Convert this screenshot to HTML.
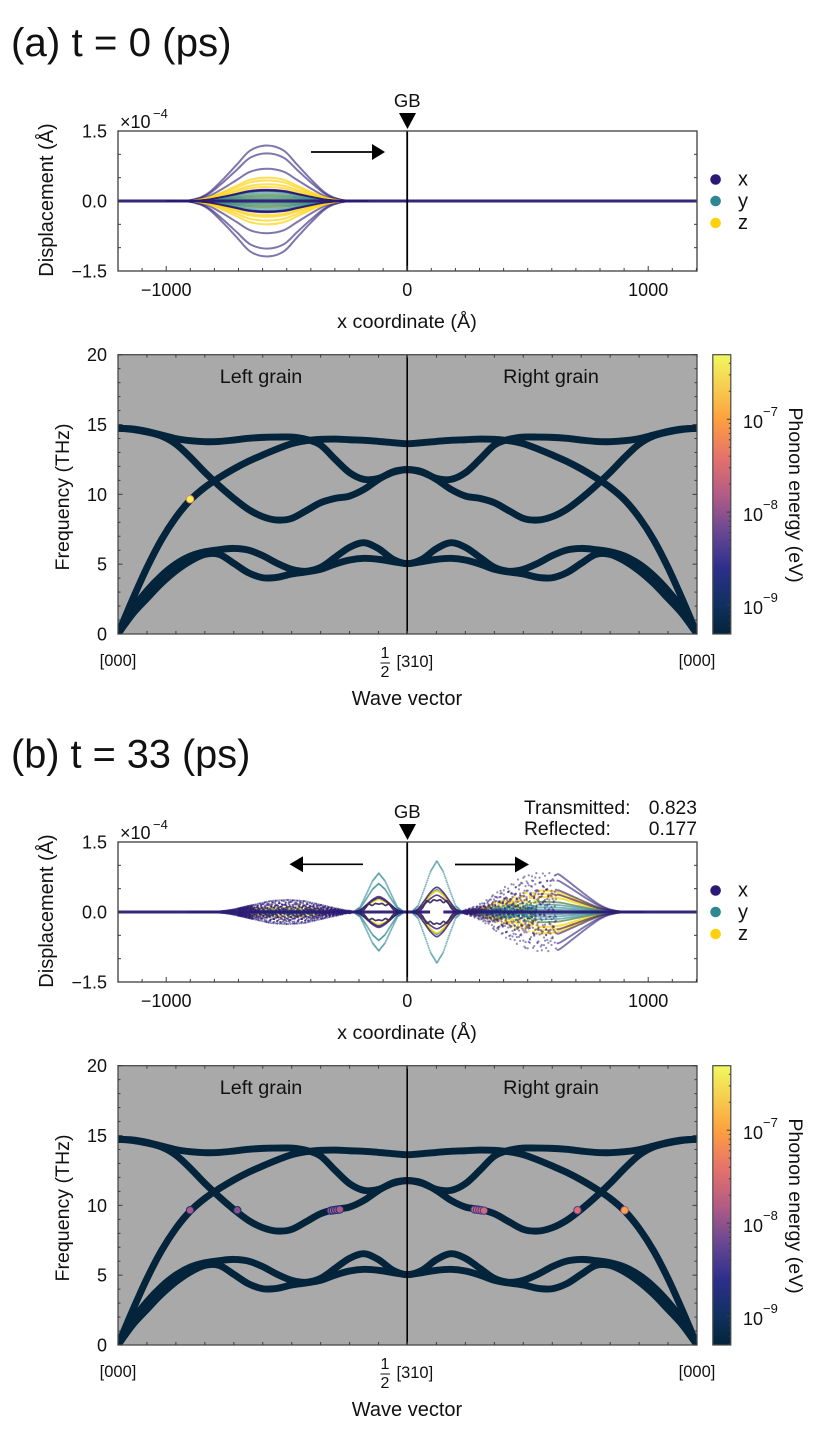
<!DOCTYPE html>
<html lang="en">
<head>
<meta charset="utf-8">
<title>Phonon wave packet at a grain boundary</title>
<style>
html,body{margin:0;padding:0;background:#fff;width:829px;height:1429px;overflow:hidden}
svg{display:block}
text{font-family:"Liberation Sans",Arial,sans-serif;fill:#111}
</style>
</head>
<body>
<svg id="fig" xmlns="http://www.w3.org/2000/svg" width="829" height="1429" viewBox="0 0 829 1429">
  <defs>
    <linearGradient id="cbGrad" x1="0" y1="1" x2="0" y2="0"></linearGradient>
    <clipPath id="clipTop"><rect x="118" y="131" width="579" height="140"></rect></clipPath>
    <clipPath id="clipPhon"><rect x="118" y="354.7" width="579" height="279.3"></rect></clipPath>
  </defs>
  <rect x="0" y="0" width="829" height="1429" fill="#fff"></rect>
  <text x="11" y="56" font-size="40.3">(a) t = 0 (ps)</text>
  <text x="11" y="767.5" font-size="39.7">(b) t = 33 (ps)</text>
  <text x="524" y="814" font-size="19.3">Transmitted:</text>
  <text x="697" y="814" font-size="19.3" text-anchor="end">0.823</text>
  <text x="524" y="835" font-size="19.3">Reflected:</text>
  <text x="697" y="835" font-size="19.3" text-anchor="end">0.177</text>
  <g id="panelA"></g>
  <g id="panelB" transform="translate(0,711)"></g>
</svg>
<script>
// ---------- displacement axis data (Angstrom, units of 1e-4 A) ----------
const xTickValues = [-1000, 0, 1000];
const yTickValues = [1.5, 0, -1.5];
const yTickLabels = ['1.5', '0.0', '\u22121.5'];
const legendLabels = ['x', 'y', 'z'];

// packet envelope (distance from centre, relative amplitude)
const envOffset = [-420, -332, -276, -235, -180, -124, -69, 0, 69, 124, 180, 235, 276, 332, 420];
const envValue = [0, 0.006, 0.065, 0.17, 0.40, 0.66, 0.91, 1, 0.91, 0.66, 0.40, 0.17, 0.065, 0.006, 0];
const wideOffset = [-380, -340, -280, -235, -180, -124, -69, 0, 69, 124, 180, 235, 276, 332, 420];
const wideValue = [0, 0.02, 0.15, 0.30, 0.55, 0.75, 0.92, 1, 0.91, 0.66, 0.40, 0.17, 0.065, 0.006, 0];
const narrowOffset = [-105, -78, -52, -26, 0, 26, 52, 78, 105];
const narrowValue = [0, 0.12, 0.45, 0.80, 1, 0.80, 0.45, 0.12, 0];

// panel (a) packet
const aCentre = -582;
const aAmpX = [1.19, 1.02, 0.69, 0.24, 0.23, 0.22, -0.22, -0.23, -0.24, -0.69, -1.02, -1.19];
const aAmpZ = [0.50, 0.44, 0.36, 0.30, 0.13, 0.07, -0.07, -0.13, -0.30, -0.34, -0.42, -0.50];
const aAmpY = [0.20, 0.16, 0.12, 0.09, 0.05, 0.03, -0.03, -0.05, -0.09, -0.12, -0.16, -0.20];

// panel (b) reflected packet
const bLeftCentre = -498;
const bLeftAmpX = [0.26, 0.22, 0.17, 0.12, -0.12, -0.17, -0.22, -0.26];
const bLeftAmpZ = [0.12, 0.09, -0.09, -0.12];
const bLeftAmpY = [0.06, 0.03, -0.03, -0.06];
const bLeftOuter = [0.26, -0.26];

// panel (b) transmitted packet
const bRightCentre = 565;
const bRightAmpX = [0.87, 0.72, 0.50, 0.40, -0.40, -0.50, -0.72, -0.87];
const bRightAmpZ = [0.46, 0.39, 0.32, 0.22, -0.22, -0.32, -0.39, -0.46];
const bRightAmpY = [0.22, 0.16, 0.10, 0.05, -0.05, -0.10, -0.16, -0.22];

// panel (b) packets pinned near the grain boundary
const gbLeftCentre = -118;
const gbLeftAmpY = [0.83, 0.61, -0.61, -0.83];
const gbLeftAmpX = [0.33, 0.30, -0.30, -0.33];
const gbLeftAmpZ = [0.27, -0.27];
const gbRightCentre = 123;
const gbRightAmpY = [1.09, 0.48, -0.48, -1.09];
const gbRightAmpX = [0.53, 0.36, -0.36, -0.53];
const gbRightAmpZ = [0.45, -0.45];
const ringOffset = [-78, -60, -42, -28, -14, 0, 14, 28, 42, 60, 78];
const ringValue = [0, 0.08, 0.24, 0.20, 0.26, 0.24, 0.26, 0.20, 0.24, 0.08, 0];
const ringLeftScale = [0.7, -0.7];
const ringRightScale = [1, -1];

// hand-read spread of scattered atoms relative to their envelope
const scatterPattern = [0.98, -0.82, 0.35, -0.97, 0.71, 0.12, -0.66, 0.93, -0.41, -0.88, 0.55, 0.99, -0.28, -0.74, 0.86, 0.2, -0.95, 0.63, -0.09, 0.9, -0.58, 0.78, -0.99, 0.31, 0.68, -0.85, 0.47, -0.15, 0.96];

// ---------- dispersion data ----------
const qGrid = [0, 0.05, 0.1, 0.15, 0.2, 0.25, 0.3, 0.35, 0.4, 0.45, 0.5, 0.55, 0.6, 0.65, 0.7, 0.75, 0.8, 0.85, 0.9, 0.95, 1];
const bandOptical = [14.73, 14.68, 14.51, 14.25, 13.99, 13.84, 13.77, 13.79, 13.89, 14.01, 14.08, 14.10, 14.10, 13.94, 13.53, 12.51, 11.55, 11.07, 11.15, 11.58, 11.77];
const bandLongitudinal = [0, 2.45, 4.75, 6.75, 8.35, 9.6, 10.5, 11.2, 11.82, 12.36, 12.82, 13.25, 13.63, 13.84, 13.94, 13.96, 13.91, 13.87, 13.79, 13.70, 13.63];
const bandDescending = [14.73, 14.65, 14.46, 14.18, 13.60, 12.65, 11.58, 10.60, 9.71, 8.93, 8.40, 8.16, 8.28, 8.83, 9.40, 9.71, 9.88, 10.36, 11.07, 11.62, 11.77];
const bandTransverse1 = [0, 1.77, 3.10, 4.18, 5.01, 5.58, 5.89, 6.04, 6.13, 6.01, 5.61, 5.06, 4.63, 4.49, 4.77, 5.49, 6.21, 6.54, 6.11, 5.35, 5.04];
const bandTransverse2 = [0, 1.43, 2.55, 3.63, 4.53, 5.23, 5.70, 5.70, 5.06, 4.39, 4.03, 4.06, 4.30, 4.44, 4.63, 5.01, 5.30, 5.42, 5.35, 5.18, 5.04];
const freqTicks = [0, 5, 10, 15, 20];
const cbDecades = [-7, -8, -9];

// excited modes: wave coordinate (0 left edge, 1 boundary, 2 right edge), THz, log10 energy
const spotsAK = [0.249];
const spotsAF = [9.65];
const spotsAE = [-6.35];
const spotsBK = [0.249, 0.412, 0.735, 0.742, 0.75, 0.758, 0.766, 1.232, 1.24, 1.248, 1.256, 1.264, 1.587, 1.75];
const spotsBF = [9.65, 9.65, 9.62, 9.64, 9.66, 9.68, 9.70, 9.70, 9.68, 9.66, 9.64, 9.62, 9.65, 9.65];
const spotsBE = [-7.85, -8.05, -7.85, -7.85, -7.85, -7.85, -7.85, -7.55, -7.55, -7.55, -7.55, -7.55, -7.45, -6.95];

// colour map of the colour bar
const cmapLog = [-9.31, -9, -8.6, -8.2, -7.8, -7.4, -7, -6.3];
const cmapColor = ['#03243a', '#10305f', '#2d2f8c', '#6a4893', '#b45c84', '#e6726a', '#fda03f', '#f0f95e'];

// ---------- scales ----------
const NS = 'http://www.w3.org/2000/svg';
const FRAME = '#3d3d3d', SERIES_X = '#2b1a74', SERIES_Y = '#2e8793', SERIES_Z = '#fdd20d', BAND = '#03243a';
const T = {left: 118, right: 697, top: 131, bottom: 271, zero: 201, gb: 407.2};
const P = {left: 118, right: 697, top: 354.7, bottom: 634};
const C = {left: 712.8, right: 730.8, top: 354.7, bottom: 634};
const xA = a => T.gb + a * 0.241;
const yD = v => T.zero - v * (70 / 1.5);
const xK = k => P.left + k * (P.right - P.left) / 2;
const yF = f => P.bottom - f * (P.bottom - P.top) / 20;
const yE = e => 605 - (e + 9) * 92.9;

function mk(parent, tag, attrs, name) {
  const el = document.createElementNS(NS, tag);
  for (const k in attrs) el.setAttribute(k, attrs[k]);
  
  
  parent.appendChild(el);
  return el;
}
function txt(parent, x, y, s, size, name, extra) {
  const el = mk(parent, 'text', Object.assign({x: x, y: y, 'font-size': size}, extra || {}), name);
  el.textContent = s;
  return el;
}
function smooth(pts) {
  let d = 'M' + pts[0][0].toFixed(2) + ' ' + pts[0][1].toFixed(2);
  for (let i = 0; i < pts.length - 1; i++) {
    const p0 = pts[Math.max(i - 1, 0)], p1 = pts[i], p2 = pts[i + 1], p3 = pts[Math.min(i + 2, pts.length - 1)];
    d += 'C' + (p1[0] + (p2[0] - p0[0]) / 6).toFixed(2) + ' ' + (p1[1] + (p2[1] - p0[1]) / 6).toFixed(2) + ' ' +
      (p2[0] - (p3[0] - p1[0]) / 6).toFixed(2) + ' ' + (p2[1] - (p3[1] - p1[1]) / 6).toFixed(2) + ' ' +
      p2[0].toFixed(2) + ' ' + p2[1].toFixed(2);
  }
  return d;
}
function envAt(off, val, d) {
  if (d <= off[0] || d >= off[off.length - 1]) return 0;
  for (let i = 0; i < off.length - 1; i++) {
    if (d <= off[i + 1]) return val[i] + (val[i + 1] - val[i]) * (d - off[i]) / (off[i + 1] - off[i]);
  }
  return 0;
}
function packetLine(g, centre, off, val, amp, from, to, color, opacity, width, name) {
  const pts = [];
  pts.push([xA(from), yD(amp * envAt(off, val, from - centre))]);
  off.forEach((o, i) => {
    const a = centre + o;
    if (a > from + 5 && a < to - 5) pts.push([xA(a), yD(amp * val[i])]);
  });
  pts.push([xA(to), yD(amp * envAt(off, val, to - centre))]);
  return mk(g, 'path', {d: smooth(pts), fill: 'none', stroke: color, 'stroke-width': width, 'stroke-opacity': opacity}, name);
}
function packetDots(g, centre, off, val, amp, from, to, step, seed, color, opacity, r, usePattern, name) {
  let i = seed;
  for (let a = from; a <= to; a += step, i++) {
    const factor = usePattern ? scatterPattern[i % scatterPattern.length] : 1;
    mk(g, 'circle', {cx: xA(a).toFixed(2), cy: yD(amp * factor * envAt(off, val, a - centre)).toFixed(2), r: r, fill: color, 'fill-opacity': opacity}, name);
  }
}
function cmap(e) {
  if (e <= cmapLog[0]) return cmapColor[0];
  for (let i = 0; i < cmapLog.length - 1; i++) {
    if (e <= cmapLog[i + 1]) {
      const t = (e - cmapLog[i]) / (cmapLog[i + 1] - cmapLog[i]);
      const a = parseInt(cmapColor[i].slice(1), 16), b = parseInt(cmapColor[i + 1].slice(1), 16);
      const ch = s => Math.round(((a >> s) & 255) + (((b >> s) & 255) - ((a >> s) & 255)) * t);
      return 'rgb(' + ch(16) + ',' + ch(8) + ',' + ch(0) + ')';
    }
  }
  return cmapColor[cmapColor.length - 1];
}
function tick(g, x1, y1, x2, y2, name) {
  mk(g, 'line', {x1: x1, y1: y1, x2: x2, y2: y2, stroke: FRAME, 'stroke-width': 1}, name);
}

// ---------- colour bar gradient ----------
const grad = document.getElementById('cbGrad');
cmapLog.forEach((e, i) => {
  const s = document.createElementNS(NS, 'stop');
  s.setAttribute('offset', ((e - cmapLog[0]) / (cmapLog[cmapLog.length - 1] - cmapLog[0])).toFixed(4));
  s.setAttribute('stop-color', cmapColor[i]);
  grad.appendChild(s);
});

// ---------- displacement panel ----------
function drawDisplacement(root, drawSeries, arrows, zeroRuns) {
  const g = mk(root, 'g', {}, 'displacement-axes');
  const plot = mk(g, 'g', {'clip-path': 'url(#clipTop)'}, 'displacement-series');
  drawSeries(plot);
  zeroRuns.forEach(run => {
    mk(plot, 'line', {x1: xA(run[0]), x2: xA(run[1]), y1: T.zero, y2: T.zero, stroke: SERIES_X, 'stroke-width': 3, 'stroke-opacity': 0.95}, 'zero-displacement-line');
  });
  mk(g, 'line', {x1: T.gb, x2: T.gb, y1: T.top, y2: T.bottom, stroke: '#000', 'stroke-width': 1.8}, 'grain-boundary-line');
  mk(g, 'rect', {x: T.left, y: T.top, width: T.right - T.left, height: T.bottom - T.top, fill: 'none', stroke: FRAME, 'stroke-width': 1.3}, 'displacement-frame');
  for (let a = -1200; a <= 1200; a += 100) {
    const major = a % 1000 === 0;
    tick(g, xA(a), T.bottom, xA(a), T.bottom - (major ? 5 : 3), 'x-tick');
  }
  for (let v = -1.5; v <= 1.5; v += 0.5) {
    tick(g, T.left, yD(v), T.left + 3, yD(v), 'y-tick');
    tick(g, T.right, yD(v), T.right - 3, yD(v), 'y-tick-right');
  }
  xTickValues.forEach(v => {
    txt(g, xA(v), 296, v < 0 ? '\u2212' + Math.abs(v) : String(v), 18, 'x-tick-label', {'text-anchor': 'middle'});
  });
  yTickValues.forEach((v, i) => {
    txt(g, 107, yD(v) + 6.5, yTickLabels[i], 18, 'y-tick-label', {'text-anchor': 'end'});
  });
  txt(g, 120, 128, '\u00d710', 18, 'y-scale-multiplier');
  txt(g, 153, 118, '\u22124', 13, 'y-scale-exponent');
  txt(g, 407, 328, 'x coordinate (\u00c5)', 19.8, 'x-axis-title', {'text-anchor': 'middle'});
  txt(g, 0, 0, 'Displacement (\u00c5)', 20, 'y-axis-title', {'text-anchor': 'middle', transform: 'translate(53,200) rotate(-90)'});
  txt(g, T.gb, 107, 'GB', 18.5, 'grain-boundary-label', {'text-anchor': 'middle'});
  mk(g, 'polygon', {points: '399,113 416,113 407.5,129', fill: '#000'}, 'grain-boundary-marker');
  arrows.forEach(a => {
    mk(g, 'line', {x1: a[0], x2: a[1], y1: a[3], y2: a[3], stroke: '#000', 'stroke-width': 1.7}, 'propagation-arrow-shaft');
    mk(g, 'polygon', {points: a[1] + ',' + (a[3] - 8) + ' ' + a[2] + ',' + a[3] + ' ' + a[1] + ',' + (a[3] + 8), fill: '#000'}, 'propagation-arrow-head');
  });
  const legendY = [179.5, 201, 223];
  const legendBase = [185.7, 207.5, 229];
  const legendC = [SERIES_X, SERIES_Y, SERIES_Z];
  legendLabels.forEach((l, i) => {
    mk(g, 'circle', {cx: 715.6, cy: legendY[i], r: 5.3, fill: legendC[i]}, 'legend-marker-' + l);
    txt(g, 738, legendBase[i], l, 20, 'legend-label-' + l);
  });
}

// ---------- dispersion panel ----------
function drawPhonon(root, spotK, spotF, spotE) {
  const g = mk(root, 'g', {}, 'dispersion-axes');
  mk(g, 'rect', {x: P.left, y: P.top, width: P.right - P.left, height: P.bottom - P.top, fill: '#a9a9a9'}, 'dispersion-background');
  const plot = mk(g, 'g', {'clip-path': 'url(#clipPhon)'}, 'dispersion-bands');
  [bandTransverse1, bandTransverse2, bandLongitudinal, bandDescending, bandOptical].forEach(band => {
    const pts = qGrid.map((q, i) => [xK(q), yF(band[i])]);
    for (let i = qGrid.length - 2; i >= 0; i--) pts.push([xK(2 - qGrid[i]), yF(band[i])]);
    mk(plot, 'path', {d: smooth(pts), fill: 'none', stroke: BAND, 'stroke-width': 6.9, 'stroke-linejoin': 'round'}, 'phonon-band');
  });
  spotK.forEach((k, i) => {
    mk(plot, 'circle', {cx: xK(k).toFixed(2), cy: yF(spotF[i]).toFixed(2), r: 3.7, fill: cmap(spotE[i]), stroke: cmap(spotE[i] - 0.9), 'stroke-width': 1}, 'excited-mode');
  });
  mk(g, 'line', {x1: T.gb, x2: T.gb, y1: P.top, y2: P.bottom, stroke: '#000', 'stroke-width': 1.6}, 'grain-boundary-line');
  mk(g, 'rect', {x: P.left, y: P.top, width: P.right - P.left, height: P.bottom - P.top, fill: 'none', stroke: '#4a4a4a', 'stroke-width': 1.3}, 'dispersion-frame');
  for (let i = 0; i <= 20; i++) {
    const k = i / 10;
    tick(g, xK(k), P.bottom, xK(k), P.bottom - 3, 'wave-vector-tick');
    tick(g, xK(k), P.top, xK(k), P.top + 3, 'wave-vector-tick-top');
  }
  for (let f = 0; f <= 20; f++) {
    const len = f % 5 === 0 ? 4.5 : 2.5;
    tick(g, P.left, yF(f), P.left + len, yF(f), 'frequency-tick');
    tick(g, P.right, yF(f), P.right - len, yF(f), 'frequency-tick-right');
  }
  freqTicks.forEach(f => {
    txt(g, 107, yF(f) + 6.5, String(f), 18, 'frequency-tick-label', {'text-anchor': 'end'});
  });
  txt(g, 118, 666, '[000]', 16.5, 'wave-vector-label-left', {'text-anchor': 'middle'});
  txt(g, 697, 666, '[000]', 16.5, 'wave-vector-label-right', {'text-anchor': 'middle'});
  txt(g, 385, 658, '1', 16, 'fraction-numerator', {'text-anchor': 'middle'});
  mk(g, 'line', {x1: 380.5, x2: 390, y1: 663, y2: 663, stroke: '#111', 'stroke-width': 1}, 'fraction-bar');
  txt(g, 385, 677, '2', 16, 'fraction-denominator', {'text-anchor': 'middle'});
  txt(g, 396.5, 667, '[310]', 16.5, 'wave-vector-label-centre');
  txt(g, 407, 705, 'Wave vector', 20, 'wave-vector-axis-title', {'text-anchor': 'middle'});
  txt(g, 0, 0, 'Frequency (THz)', 19.6, 'frequency-axis-title', {'text-anchor': 'middle', transform: 'translate(69,497) rotate(-90)'});
  txt(g, 261, 383, 'Left grain', 19.8, 'left-grain-label', {'text-anchor': 'middle'});
  txt(g, 551, 383, 'Right grain', 19.8, 'right-grain-label', {'text-anchor': 'middle'});
  // colour bar
  mk(g, 'rect', {x: C.left, y: C.top, width: C.right - C.left, height: C.bottom - C.top, fill: 'url(#cbGrad)', stroke: '#4a4a4a', 'stroke-width': 1.2}, 'colorbar');
  for (let dec = -10; dec <= -7; dec++) {
    for (let m = 1; m <= 9; m++) {
      const e = dec + Math.log10(m);
      if (yE(e) < C.top || yE(e) > C.bottom) continue;
      tick(g, C.right, yE(e), C.right - (m === 1 ? 4 : 2), yE(e), 'colorbar-tick');
    }
  }
  cbDecades.forEach(e => {
    txt(g, 743, yE(e) + 9, '10', 18, 'colorbar-tick-label');
    txt(g, 763, yE(e) - 3, '\u2212' + Math.abs(e), 13, 'colorbar-tick-exponent');
  });
  txt(g, 0, 0, 'Phonon energy (eV)', 19.6, 'colorbar-title', {'text-anchor': 'middle', transform: 'translate(789,495) rotate(90)'});
}

// ---------- series ----------
function drawSeriesA(p) {
  const from = aCentre - 420, to = aCentre + 420;
  aAmpX.forEach(a => packetLine(p, aCentre, envOffset, envValue, a, from, to, SERIES_X, 0.6, 2, 'x-displacement-line'));
  aAmpZ.forEach(a => packetLine(p, aCentre, envOffset, envValue, a, from, to, SERIES_Z, 0.7, 2, 'z-displacement-line'));
  aAmpY.forEach(a => packetLine(p, aCentre, envOffset, envValue, a, from, to, SERIES_Y, 0.6, 1.9, 'y-displacement-line'));
  aAmpX.slice(3, 9).forEach(a => packetLine(p, aCentre, envOffset, envValue, a, from, to, SERIES_X, 0.7, 1.5, 'x-displacement-line'));
}
function drawSeriesB(p) {
  // reflected packet
  bLeftAmpZ.forEach(a => packetLine(p, bLeftCentre, envOffset, envValue, a, -900, -620, SERIES_Z, 0.75, 1.7, 'z-displacement-line'));
  bLeftAmpX.forEach(a => packetLine(p, bLeftCentre, envOffset, envValue, a, -900, -640, SERIES_X, 0.65, 1.8, 'x-displacement-line'));
  bLeftAmpY.forEach(a => packetLine(p, bLeftCentre, envOffset, envValue, a, -900, -560, SERIES_Y, 0.7, 1.6, 'y-displacement-line'));
  bLeftAmpZ.forEach((a, i) => packetDots(p, bLeftCentre, envOffset, envValue, a, -640, -230, 5, i * 3, SERIES_Z, 0.85, 0.95, true, 'z-displacement-atom'));
  bLeftAmpY.forEach((a, i) => packetDots(p, bLeftCentre, envOffset, envValue, a, -640, -230, 5, i * 5 + 2, SERIES_Y, 0.85, 0.95, true, 'y-displacement-atom'));
  bLeftAmpX.forEach((a, i) => packetDots(p, bLeftCentre, envOffset, envValue, a, -700, -230, 4, i * 4 + 1, SERIES_X, 0.6, 1, true, 'x-displacement-atom'));
  bLeftOuter.forEach(a => packetDots(p, bLeftCentre, envOffset, envValue, a, -700, -260, 9, 0, SERIES_X, 0.5, 1.1, false, 'x-displacement-atom'));
  // transmitted packet
  bRightAmpZ.forEach(a => packetLine(p, bRightCentre, wideOffset, wideValue, a, 540, 985, SERIES_Z, 0.75, 2, 'z-displacement-line'));
  bRightAmpX.forEach(a => packetLine(p, bRightCentre, wideOffset, wideValue, a, 620, 985, SERIES_X, 0.6, 1.9, 'x-displacement-line'));
  bRightAmpY.forEach(a => packetLine(p, bRightCentre, wideOffset, wideValue, a, 540, 985, SERIES_Y, 0.65, 1.8, 'y-displacement-line'));
  bRightAmpZ.forEach((a, i) => packetDots(p, bRightCentre, wideOffset, wideValue, a, 230, 540, 4.5, i * 3, SERIES_Z, 0.75, 1.1, true, 'z-displacement-atom'));
  bRightAmpY.forEach((a, i) => packetDots(p, bRightCentre, wideOffset, wideValue, a, 230, 540, 4.5, i * 5 + 2, SERIES_Y, 0.75, 1.1, true, 'y-displacement-atom'));
  bRightAmpX.forEach((a, i) => packetDots(p, bRightCentre, wideOffset, wideValue, a, 230, 620, 4.5, i * 4 + 1, SERIES_X, 0.5, 1.1, true, 'x-displacement-atom'));
  // packets at the boundary
  gbLeftAmpY.forEach(a => packetDots(p, gbLeftCentre, narrowOffset, narrowValue, a, gbLeftCentre - 105, gbLeftCentre + 105, 3, 0, SERIES_Y, 0.6, 1, false, 'y-displacement-atom'));
  gbRightAmpY.forEach(a => packetDots(p, gbRightCentre, narrowOffset, narrowValue, a, gbRightCentre - 105, gbRightCentre + 105, 3, 0, SERIES_Y, 0.6, 1, false, 'y-displacement-atom'));
  gbLeftAmpZ.forEach(a => packetLine(p, gbLeftCentre, narrowOffset, narrowValue, a, gbLeftCentre - 105, gbLeftCentre + 105, SERIES_Z, 0.95, 1.7, 'z-displacement-line'));
  gbRightAmpZ.forEach(a => packetLine(p, gbRightCentre, narrowOffset, narrowValue, a, gbRightCentre - 105, gbRightCentre + 105, SERIES_Z, 0.95, 1.7, 'z-displacement-line'));
  gbLeftAmpX.forEach(a => packetLine(p, gbLeftCentre, narrowOffset, narrowValue, a, gbLeftCentre - 105, gbLeftCentre + 105, SERIES_X, 0.8, 1.7, 'x-displacement-line'));
  gbRightAmpX.forEach(a => packetLine(p, gbRightCentre, narrowOffset, narrowValue, a, gbRightCentre - 105, gbRightCentre + 105, SERIES_X, 0.8, 1.7, 'x-displacement-line'));
  ringLeftScale.forEach(s => packetLine(p, gbLeftCentre, ringOffset, ringValue, s, gbLeftCentre - 78, gbLeftCentre + 78, '#3a2a5a', 0.95, 1.7, 'boundary-mode-curve'));
  ringRightScale.forEach(s => packetLine(p, gbRightCentre, ringOffset, ringValue, s, gbRightCentre - 78, gbRightCentre + 78, '#3a2a5a', 0.95, 1.7, 'boundary-mode-curve'));
}

const panelA = document.getElementById('panelA');
const panelB = document.getElementById('panelB');
const zeroRunsA = [[-1200, 1200]];
const zeroRunsB = [[-1200, 95], [150, 1200]];
drawDisplacement(panelA, drawSeriesA, [[311, 372, 385, 152]], zeroRunsA);
drawPhonon(panelA, spotsAK, spotsAF, spotsAE);
drawDisplacement(panelB, drawSeriesB, [[363, 303, 289.5, 153.3], [455, 515, 529, 153.5]], zeroRunsB);
drawPhonon(panelB, spotsBK, spotsBF, spotsBE);
</script>
</body>
</html>
